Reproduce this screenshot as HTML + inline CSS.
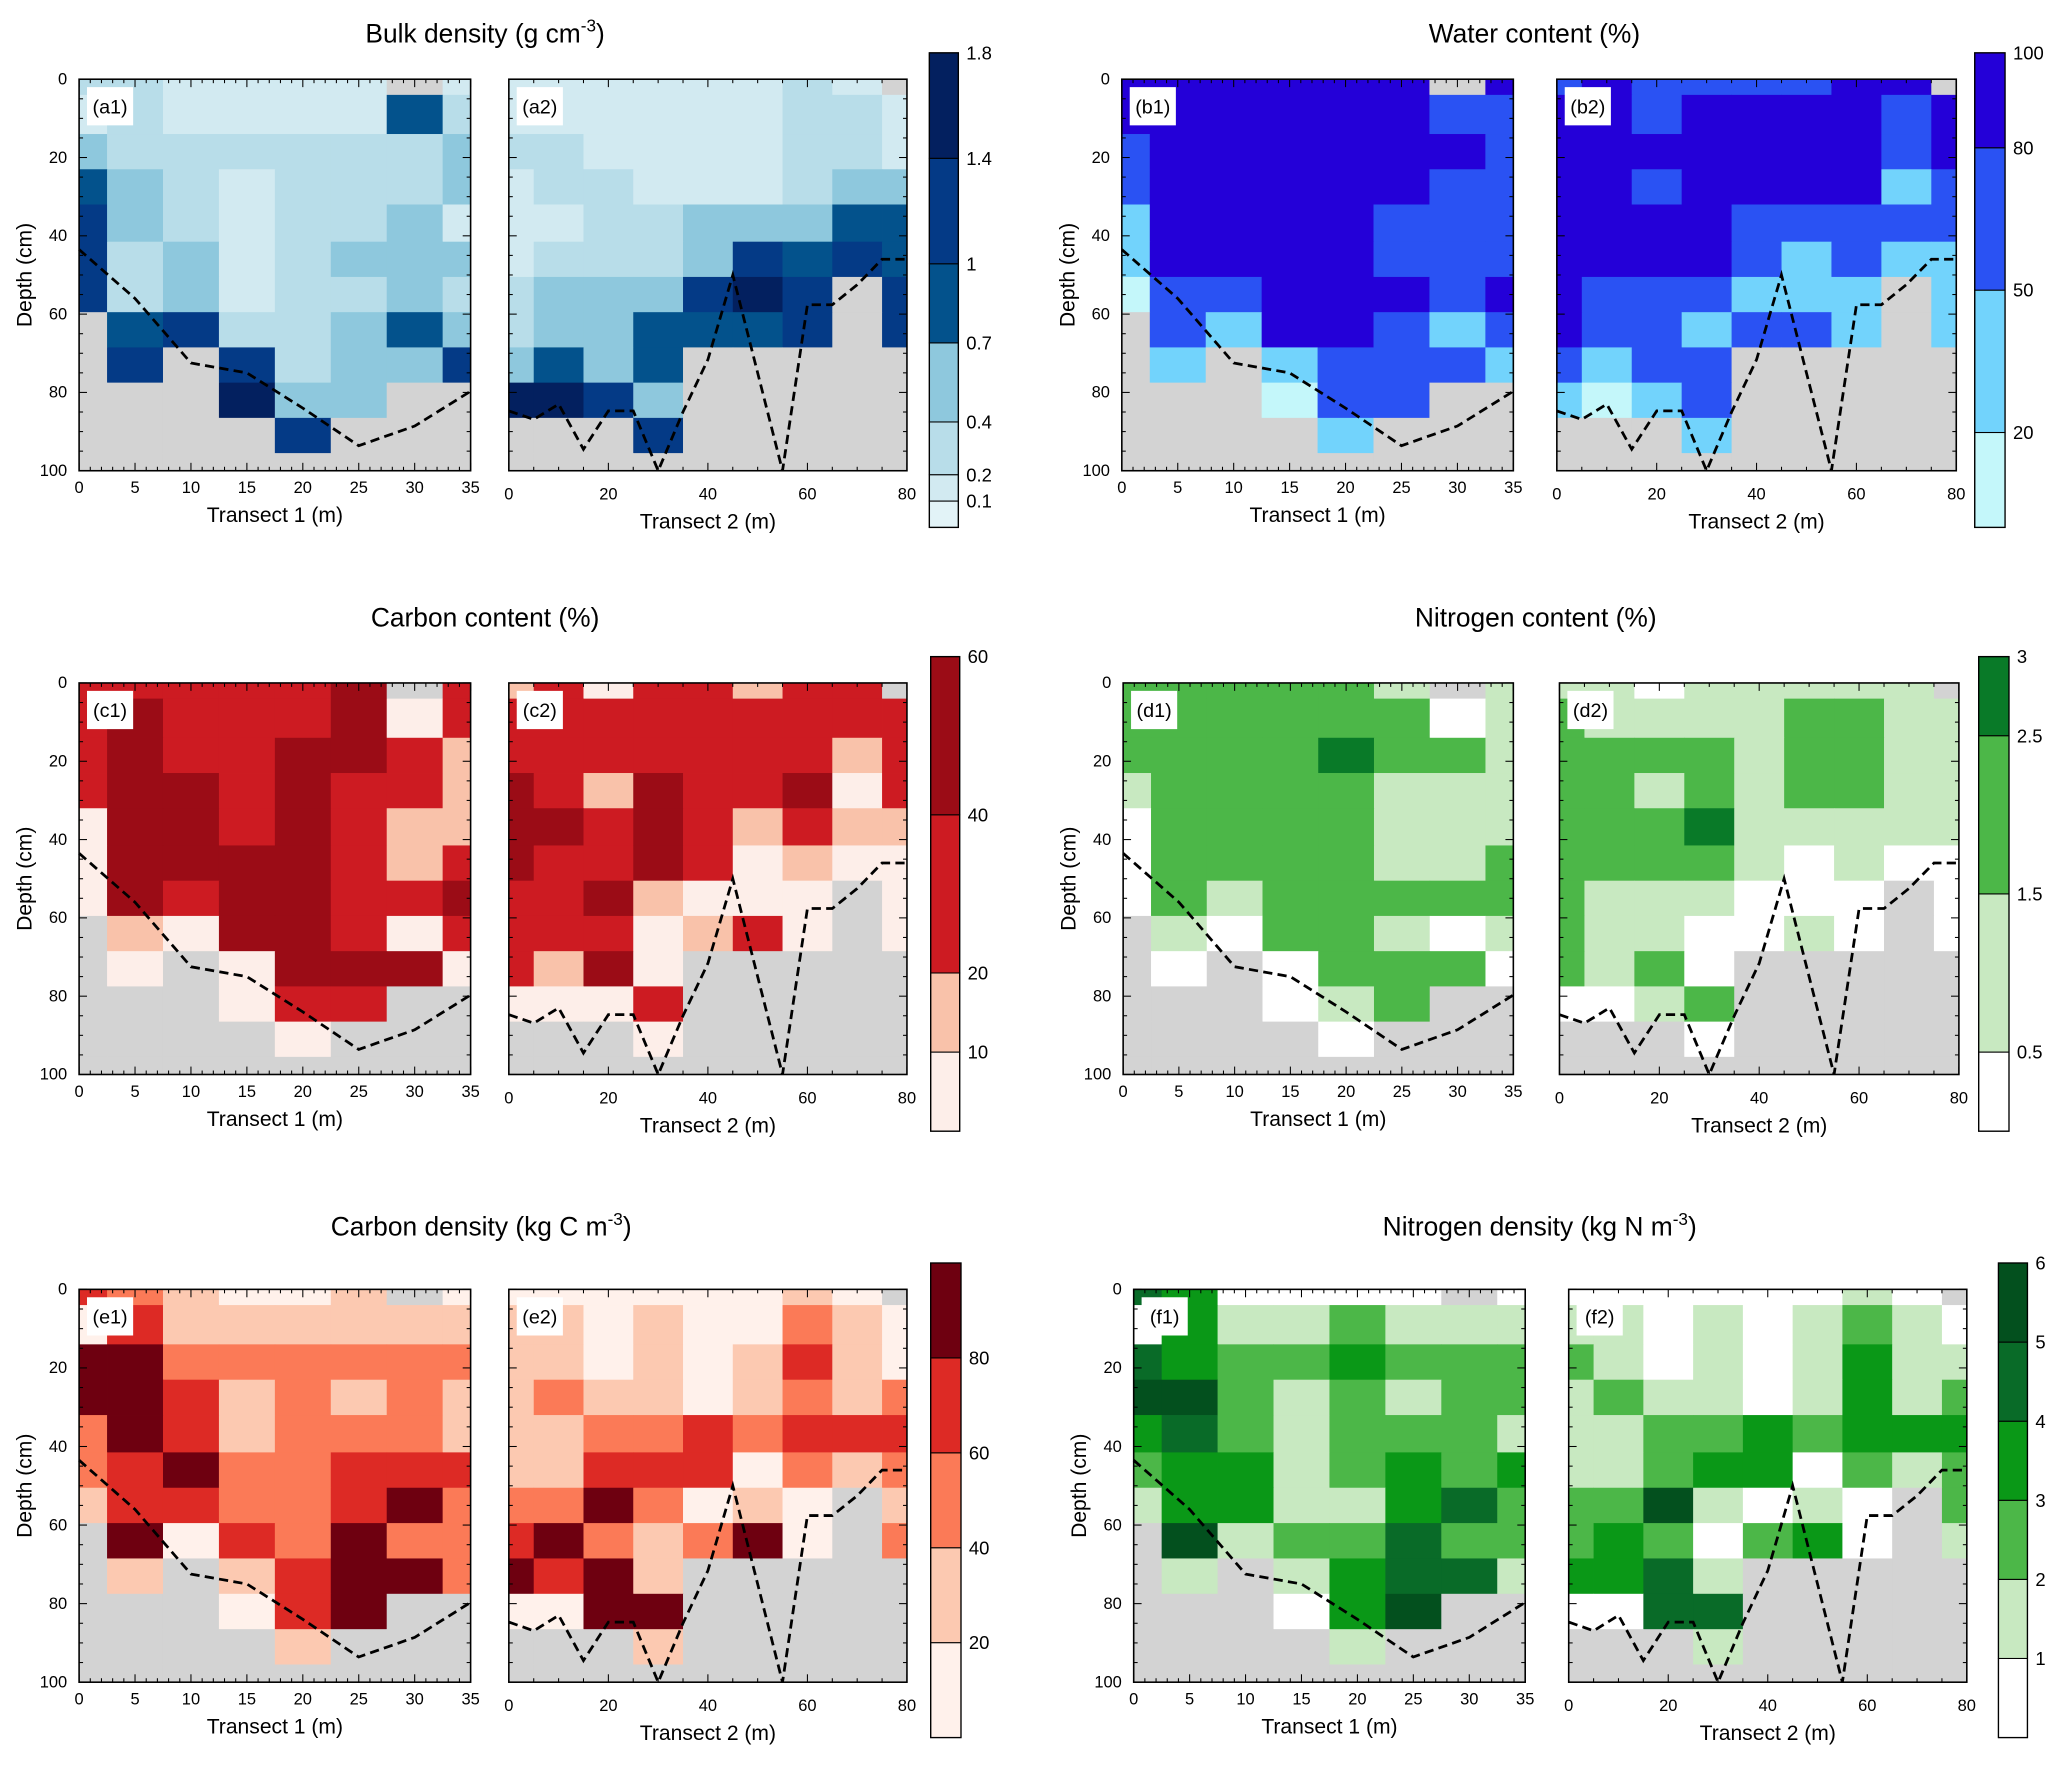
<!DOCTYPE html>
<html><head><meta charset="utf-8"><title>Transect soil properties</title>
<style>
html,body{margin:0;padding:0;background:#fff;}
svg{display:block;font-family:"Liberation Sans",Arial,sans-serif;}
</style></head>
<body>
<svg id="fig" xmlns="http://www.w3.org/2000/svg" width="2067" height="1768" viewBox="0 0 1568 1341"></svg>
<script>
// ---------- shared data ----------
const depthEdges = [0,4,14,23,32,41.5,50.5,59.5,68.5,77.5,86.5,95.5,100];
const t1Centers = [0,5,10,15,20,25,30,35];
const t2Centers = [0,10,20,30,40,50,60,70,80];
const lineT1X = [0,5,10,15,20,25,30,35];
const lineT1D = [43.5,56,72.5,75,84,93.6,88.6,79.7];
const lineT2X = [0,5,10,15,20,25,30,35,40,45,55,60,65,70,75,80];
const lineT2D = [84.7,86.9,83,94.5,84.7,84.7,100,85,71.6,50,100,57.6,57.6,52.5,46,46];
const depthTicks = [0,20,40,60,80,100];
const t1Ticks = [0,5,10,15,20,25,30,35];
const t2Ticks = [0,20,40,60,80];

// class index per cell ('.' = no data), rows top->bottom
const a1 = ["221111.1","12111142","32222223","43212223","53212231","52312333","52312232",".4522343",".5.52335","...633..","....5...","........"];
const a2 = ["11111121.","111111221","221111221","122111233","112233344","122235454","2333565.5","2334445.5","3434.....","6653.....","...5.....","........."];
const b1 = ["333333.3","33333322","23333332","23333322","13333222","13333222","02233323",".2133212",".1.12221","...022..","....1...","........"];
const b2 = ["23222233.","332333323","333333323","332333312","333322222","333321211","3222111.1","3221221.1","2122.....","1012.....","...1.....","........."];
const c1 = ["222223.2","23222302","23223321","23323221","03323211","03333212","03233223",".1033202",".0.03330","...022..","....0...","........"];
const c2 = ["12022122.","222222222","222222212","321322302","332321211","322320100","2231000.0","2220120.0","2130.....","0002.....","...0.....","........."];
const d1 = ["222221.1","22222201","22223221","12222111","02222111","02222112","02122222",".1022101",".0.02220","...012..","....0...","........"];
const d2 = ["11011111.","211112211","222212211","221212211","222311111","222210100","2111000.0","2110010.0","2120.....","0012.....","...0.....","........."];
const e1 = ["321001.0","03111111","44222222","44312121","24312221","23422333","13322342",".4032422",".1.13442","...034..","....1...","........"];
const e2 = ["00000010.","110100210","110101310","121101212","112232333","113330212","2242010.1","3421240.2","4341.....","0044.....","...1.....","........."];
const f1 = ["430000.0","03112111","43223222","55212122","34212221","23312323","13311342",".5122422",".1.13441","...035..","....1...","........"];
const f2 = ["00000010.","110101210","210101311","121101312","112232333","112330212","2251010.2","2320230.1","3341.....","0044.....","...1.....","........."];

// colorbar level boundaries and labels
const levelsA = [0,0.1,0.2,0.4,0.7,1,1.4,1.8];
const labelsA = [0.1,0.2,0.4,0.7,1,1.4,1.8];
const levelsB = [0,20,50,80,100];
const labelsB = [20,50,80,100];
const levelsC = [0,10,20,40,60];
const labelsC = [10,20,40,60];
const levelsD = [0,0.5,1.5,2.5,3];
const labelsD = [0.5,1.5,2.5,3];
const levelsE = [0,20,40,60,80,100];
const labelsE = [20,40,60,80];
const levelsF = [0,1,2,3,4,5,6];
const labelsF = [1,2,3,4,5,6];

const colA = ['#e2f3f7','#d2eaf1','#b8dde9','#8ec8dd','#03528c','#043a86','#03205f'];
const colB = ['#c4f7fa','#72d3fc','#2a52f3','#2400d8'];
const colC = ['#fdeee9','#f9c2aa','#cd1b22','#9b0c16'];
const colD = ['#ffffff','#c8e9c1','#4cb748','#097a28'];
const colE = ['#fff1eb','#fcc9b1','#fb7a57','#dd2a25','#6e0010'];
const colF = ['#ffffff','#c8e9c1','#4cb748','#0a9817','#096b28','#03501e'];

const NS = 'http://www.w3.org/2000/svg';
const svg = document.getElementById('fig');
function mk(tag, attrs, parent){
  const e = document.createElementNS(NS, tag);
  for (const k in attrs) e.setAttribute(k, attrs[k]);
  (parent||svg).appendChild(e);
  return e;
}
function txt(parent, x, y, s, size, anchor, extra){
  const t = mk('text', Object.assign({x:x, y:y, 'font-size':size, 'text-anchor':anchor||'middle', fill:'#000'}, extra||{}), parent);
  t.textContent = s;
  return t;
}

function edgesFrom(centers){
  const e = [centers[0]];
  for (let i=0;i<centers.length-1;i++) e.push((centers[i]+centers[i+1])/2);
  e.push(centers[centers.length-1]);
  return e;
}

function drawPanel(p){
  const g = mk('g', {});
  
  
  const xmax = p.t === 1 ? 35 : 80;
  const sx = v => p.x0 + (v / xmax) * (p.x1 - p.x0);
  const sy = v => p.y0 + (v / 100) * (p.y1 - p.y0);
  const cx = edgesFrom(p.t === 1 ? t1Centers : t2Centers);
  mk('rect', {x:p.x0, y:p.y0, width:p.x1-p.x0, height:p.y1-p.y0, fill:'#d3d3d3'}, g);
  for (let r=0;r<p.data.length;r++){
    for (let c=0;c<p.data[r].length;c++){
      const ch = p.data[r][c];
      const x0 = sx(cx[c]), x1 = sx(cx[c+1]);
      const y0 = sy(depthEdges[r]), y1 = sy(depthEdges[r+1]);
      const cell = mk('rect', {x:x0, y:y0, width:x1-x0+0.3, height:y1-y0+0.3,
        fill: ch === '.' ? '#d3d3d3' : p.colors[+ch]}, g);
      
      
    }
  }
  const lx = p.t === 1 ? lineT1X : lineT2X;
  const ld = p.t === 1 ? lineT1D : lineT2D;
  const pts = lx.map((v,i) => sx(v).toFixed(1) + ',' + sy(ld[i]).toFixed(1)).join(' ');
  const pl = mk('polyline', {points:pts, fill:'none', stroke:'#000', 'stroke-width':2.1, 'stroke-dasharray':'7,4'}, g);
  
  
  mk('rect', {x:p.x0, y:p.y0, width:p.x1-p.x0, height:p.y1-p.y0, fill:'none', stroke:'#000', 'stroke-width':1.2}, g);
  const minorX = p.t === 1 ? 1 : 5, majorX = p.t === 1 ? 5 : 20;
  for (let v=0; v<=xmax+0.001; v+=minorX){
    const L = (Math.abs(v % majorX) < 0.001) ? 6 : 3;
    const x = sx(v);
    mk('line', {x1:x, y1:p.y1, x2:x, y2:p.y1-L, stroke:'#000', 'stroke-width':0.8}, g);
    mk('line', {x1:x, y1:p.y0, x2:x, y2:p.y0+L, stroke:'#000', 'stroke-width':0.8}, g);
  }
  for (let v=0; v<=100; v+=5){
    const L = (v % 20 === 0) ? 6 : 3;
    const y = sy(v);
    mk('line', {x1:p.x0, y1:y, x2:p.x0+L, y2:y, stroke:'#000', 'stroke-width':0.8}, g);
    mk('line', {x1:p.x1, y1:y, x2:p.x1-L, y2:y, stroke:'#000', 'stroke-width':0.8}, g);
  }
  const xt = p.t === 1 ? t1Ticks : t2Ticks;
  const dy = p.t === 1 ? 17 : 22;
  xt.forEach(v => {
    const t = txt(g, sx(v), p.y1 + dy, String(v), 12.5, 'middle');
    
    
  });
  const at = txt(g, (p.x0+p.x1)/2, p.y1 + (p.t === 1 ? 39 : 44), 'Transect ' + p.t + ' (m)', 16, 'middle');
  
  
  if (p.t === 1){
    depthTicks.forEach(v => {
      const t = txt(g, p.x0 - 9, sy(v) + 4, String(v), 12.5, 'end');
      
      
    });
    const yt = txt(g, 0, 0, 'Depth (cm)', 16, 'middle', {transform:'translate(' + (p.x0-36) + ',' + ((p.y0+p.y1)/2) + ') rotate(-90)'});
    
    
  }
  const lb = mk('rect', {x:p.x0+6, y:p.y0+6, width:35, height:29, fill:'#fff'}, g);
  
  
  const lt = txt(g, p.x0+23.5, p.y0+26, '(' + p.label + ')', 15, 'middle');
  
  
}

function drawColorbar(cb){
  const g = mk('g', {});
  
  
  const vmax = cb.levels[cb.levels.length-1];
  const sy = v => cb.y1 - (v / vmax) * (cb.y1 - cb.y0);
  for (let i=0;i<cb.levels.length-1;i++){
    const y0 = sy(cb.levels[i+1]), y1 = sy(cb.levels[i]);
    const r = mk('rect', {x:cb.x0, y:y0, width:cb.x1-cb.x0, height:y1-y0, fill:cb.colors[i], stroke:'#000', 'stroke-width':0.8}, g);
    
    
  }
  mk('rect', {x:cb.x0, y:cb.y0, width:cb.x1-cb.x0, height:cb.y1-cb.y0, fill:'none', stroke:'#000', 'stroke-width':1}, g);
  cb.labels.forEach(v => {
    const t = txt(g, cb.x1 + 6, sy(v) + 5, String(v), 14, 'start');
    
    
  });
}

function title(x, y, main, sup, tail, name){
  const t = mk('text', {x:x, y:y, 'font-size':20, 'text-anchor':'middle', fill:'#000'});
  
  
  t.appendChild(document.createTextNode(main));
  if (sup){
    const s = mk('tspan', {'font-size':13, dy:-8}, t); s.textContent = sup;
    const r = mk('tspan', {dy:8}, t); r.textContent = tail;
  }
}

const rows = [
  {y0:60, y1:357, cy0:40, cy1:400},
  {y0:518, y1:815, cy0:498, cy1:858},
  {y0:978, y1:1276, cy0:958, cy1:1318}
];
const panels = [
  {label:'a1', t:1, x0:60, x1:357, row:0, data:a1, colors:colA},
  {label:'a2', t:2, x0:386, x1:688, row:0, data:a2, colors:colA},
  {label:'b1', t:1, x0:851, x1:1148, row:0, data:b1, colors:colB},
  {label:'b2', t:2, x0:1181, x1:1484, row:0, data:b2, colors:colB},
  {label:'c1', t:1, x0:60, x1:357, row:1, data:c1, colors:colC},
  {label:'c2', t:2, x0:386, x1:688, row:1, data:c2, colors:colC},
  {label:'d1', t:1, x0:852, x1:1148, row:1, data:d1, colors:colD},
  {label:'d2', t:2, x0:1183, x1:1486, row:1, data:d2, colors:colD},
  {label:'e1', t:1, x0:60, x1:357, row:2, data:e1, colors:colE},
  {label:'e2', t:2, x0:386, x1:688, row:2, data:e2, colors:colE},
  {label:'f1', t:1, x0:860, x1:1157, row:2, data:f1, colors:colF},
  {label:'f2', t:2, x0:1190, x1:1492, row:2, data:f2, colors:colF}
];
panels.forEach(p => { p.y0 = rows[p.row].y0; p.y1 = rows[p.row].y1; drawPanel(p); });

const bars = [
  {name:'bulk-density', x0:705, x1:727, row:0, levels:levelsA, labels:labelsA, colors:colA},
  {name:'water-content', x0:1498, x1:1521, row:0, levels:levelsB, labels:labelsB, colors:colB},
  {name:'carbon-content', x0:706, x1:728, row:1, levels:levelsC, labels:labelsC, colors:colC},
  {name:'nitrogen-content', x0:1501, x1:1524, row:1, levels:levelsD, labels:labelsD, colors:colD},
  {name:'carbon-density', x0:706, x1:729, row:2, levels:levelsE, labels:labelsE, colors:colE},
  {name:'nitrogen-density', x0:1516, x1:1538, row:2, levels:levelsF, labels:labelsF, colors:colF}
];
bars.forEach(b => { b.y0 = rows[b.row].cy0; b.y1 = rows[b.row].cy1; drawColorbar(b); });

title(368, 32, 'Bulk density (g cm', '-3', ')', 'title-bulk-density');
title(1164, 32, 'Water content (%)', null, null, 'title-water-content');
title(368, 475, 'Carbon content (%)', null, null, 'title-carbon-content');
title(1165, 475, 'Nitrogen content (%)', null, null, 'title-nitrogen-content');
title(365, 937, 'Carbon density (kg C m', '-3', ')', 'title-carbon-density');
title(1168, 937, 'Nitrogen density (kg N m', '-3', ')', 'title-nitrogen-density');
</script>
</body></html>
